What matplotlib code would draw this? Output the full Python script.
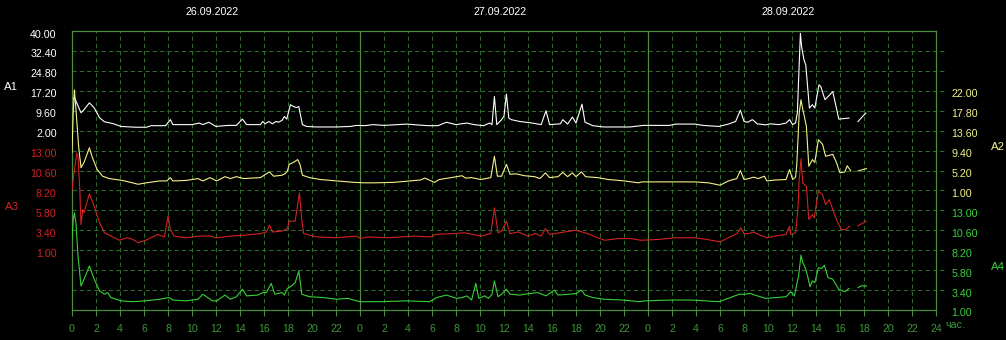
import numpy as np
import matplotlib
matplotlib.use('Agg')
import matplotlib.pyplot as plt
import matplotlib.transforms as mtransforms

# ---- data (hours from 26.09.2022 00:00) ----
dates = ['26.09.2022', '27.09.2022', '28.09.2022']

a1_hours = [0.0, 0.2, 0.35, 0.75, 1.0, 1.45, 1.85, 2.3, 2.7, 3.4, 4.1, 5.3, 6.2, 6.6, 7.8, 8.2, 8.4,
            10.0, 10.6, 10.9, 11.4, 12.0, 13.0, 13.7, 14.2, 14.55, 15.7, 15.9, 16.1, 16.4, 16.7, 17.0,
            17.2, 17.5, 17.7, 17.9, 18.2, 18.45, 18.7, 18.9, 19.2, 19.55, 20.4, 22.0, 23.2, 23.7, 24.4,
            25.1, 26.0, 27.9, 29.6, 30.5, 31.2, 32.0, 32.9, 33.5, 34.3, 34.8, 35.0, 35.2, 35.4, 35.8,
            36.0, 36.2, 36.4, 36.6, 37.3, 38.2, 39.1, 39.5, 39.8, 40.7, 40.9, 41.3, 41.7, 42.0, 42.5,
            42.75, 43.4, 44.3, 46.5, 47.6, 49.8, 50.3, 51.9, 52.6, 53.9, 54.7, 55.3, 55.7, 56.0, 56.3,
            56.7, 57.1, 57.8, 58.2, 58.9, 59.5, 59.8, 60.05, 60.3, 60.45, 60.55, 60.7, 60.8, 61.0,
            61.15, 61.3, 61.45, 61.7, 61.9, 62.25, 62.4, 62.75, 63.4, 63.9, 64.75, 65.1, 65.5, 66.15]
a1 = [13.8, 14.5, 13.1, 8.8, 10.0, 12.6, 10.7, 6.9, 5.4, 4.7, 3.6, 3.3, 3.3, 3.9, 3.9, 6.2, 4.3,
      4.3, 4.9, 4.3, 5.2, 3.6, 4.0, 4.0, 6.4, 4.3, 4.3, 5.5, 4.6, 5.5, 4.6, 5.5,
      5.2, 5.9, 7.4, 6.4, 11.9, 11.2, 10.8, 11.2, 4.3, 3.6, 3.4, 3.4, 3.6, 4.0, 3.9,
      4.3, 4.0, 4.5, 3.9, 3.9, 5.2, 4.3, 4.9, 4.3, 3.9, 4.9, 4.3, 15.0, 4.3, 6.2,
      7.5, 15.9, 6.8, 6.2, 5.5, 5.0, 4.3, 9.6, 4.3, 4.6, 6.2, 4.5, 7.2, 4.9, 12.1,
      5.2, 3.9, 3.4, 3.4, 4.0, 4.0, 4.5, 4.5, 4.0, 3.6, 4.5, 5.5, 9.8, 5.5, 5.2,
      6.2, 4.6, 4.2, 4.6, 4.3, 4.9, 6.2, 4.3, 5.0, 9.0, 21.4, 39.1, 34.0, 29.0,
      27.0, 18.8, 10.6, 11.9, 10.6, 19.5, 18.8, 13.8, 16.9, 6.4, 6.8, np.nan, 5.5, 8.7]

a2_hours = [0.0, 0.1, 0.2, 0.35, 0.55, 0.75, 1.0, 1.45, 1.7, 2.1, 2.55, 3.1, 4.2, 5.05, 5.5, 6.2, 7.3,
            7.9, 8.2, 8.4, 9.5, 10.5, 10.9, 11.5, 12.05, 12.75, 13.2, 13.7, 14.3, 15.7, 16.45, 16.8,
            17.5, 17.8, 17.95, 18.1, 18.45, 18.8, 19.0, 19.2, 19.8, 20.7, 22.05, 23.5, 24.4, 25.2,
            26.8, 29.05, 29.4, 30.2, 30.6, 31.6, 32.5, 32.8, 33.3, 34.05, 34.9, 35.2, 35.45, 35.8,
            36.2, 36.5, 37.0, 37.7, 38.55, 39.0, 39.45, 39.8, 40.5, 40.9, 41.3, 41.7, 42.0, 42.45,
            42.8, 43.8, 44.7, 46.05, 47.2, 47.5, 50.3, 51.9, 53.05, 54.0, 54.7, 55.4, 55.7, 56.0,
            56.4, 56.8, 57.2, 57.7, 57.9, 58.6, 59.5, 59.8, 60.05, 60.3, 60.4, 60.6, 60.75, 60.85,
            61.2, 61.4, 61.7, 61.9, 62.2, 62.55, 62.8, 63.4, 63.7, 64.0, 64.4, 64.6, 64.9, 65.2,
            65.5, 65.9, 66.2]
a2 = [9.0, 17.4, 22.2, 17.4, 10.3, 5.8, 6.9, 10.0, 7.9, 5.4, 4.0, 3.5, 3.1, 2.6, 2.3, 2.6, 3.0,
      3.0, 3.7, 3.0, 3.1, 3.5, 3.0, 3.7, 3.0, 3.9, 3.5, 3.9, 3.5, 3.7, 4.9, 4.0,
      4.2, 4.6, 5.1, 6.5, 6.9, 7.5, 6.5, 4.2, 3.7, 3.3, 3.0, 2.7, 2.6, 2.6,
      2.7, 3.2, 3.6, 2.7, 3.3, 3.7, 4.1, 3.6, 3.7, 3.3, 3.7, 8.2, 4.0, 4.0,
      6.5, 4.4, 4.5, 4.1, 3.9, 3.5, 4.7, 3.7, 3.9, 4.8, 3.9, 4.7, 3.9, 4.9,
      3.9, 3.7, 3.3, 3.0, 2.6, 2.8, 2.8, 2.8, 2.6, 2.1, 3.0, 3.5, 5.2, 3.3,
      3.5, 3.8, 3.5, 4.0, 3.0, 3.2, 3.3, 5.4, 3.3, 3.8, 6.5, 17.3, 20.1, 18.7,
      14.5, 6.1, 7.5, 6.9, 11.7, 10.7, 8.2, 8.6, 6.9, 4.7, 4.9, 6.2, 5.1, np.nan,
      5.1, 5.4, 5.6]

a3_hours = [0.0, 0.2, 0.4, 0.5, 0.65, 0.75, 0.9, 1.0, 1.45, 1.85, 2.3, 2.7, 3.25, 3.95, 4.6, 4.9,
            5.2, 5.5, 6.15, 7.15, 7.7, 8.0, 8.2, 8.5, 9.5, 10.6, 11.5, 12.05, 13.2, 14.3, 15.7, 16.2,
            16.45, 16.7, 17.5, 17.95, 18.1, 18.6, 18.95, 19.15, 19.3, 20.4, 22.05, 23.7, 24.05, 24.6,
            26.3, 28.5, 29.9, 30.3, 31.8, 32.7, 34.05, 34.9, 35.2, 35.5, 35.8, 36.2, 36.5, 37.2,
            38.0, 38.6, 39.1, 39.45, 39.8, 41.05, 42.0, 42.5, 43.0, 43.8, 44.4, 45.5, 46.6, 47.4,
            48.9, 50.3, 51.9, 52.9, 54.0, 54.7, 55.4, 55.75, 56.0, 56.4, 56.8, 57.2, 57.9, 58.6,
            59.5, 59.8, 59.9, 60.3, 60.5, 60.6, 60.75, 60.9, 61.2, 61.4, 61.7, 61.85, 62.2, 62.55,
            62.8, 63.1, 63.4, 63.7, 64.1, 64.5, 64.8, 65.2, 65.5, 65.8, 66.2]
a3 = [8.3, 10.7, 12.7, 12.3, 8.3, 4.1, 5.9, 5.5, 7.8, 6.3, 4.3, 3.1, 2.7, 2.2, 2.5, 2.4,
      2.2, 1.9, 2.2, 2.9, 2.6, 5.1, 3.5, 2.7, 2.5, 2.7, 2.7, 2.5, 2.7, 2.8, 3.0, 3.2,
      4.0, 3.2, 3.3, 3.6, 4.5, 4.5, 7.9, 4.7, 3.0, 2.6, 2.5, 2.7, 2.4, 2.6,
      2.5, 2.7, 2.6, 2.9, 3.0, 3.1, 2.7, 3.0, 6.1, 3.1, 3.3, 4.5, 3.0, 3.2,
      2.7, 3.0, 2.7, 3.6, 2.9, 3.2, 3.4, 3.2, 3.0, 2.5, 2.2, 2.4, 2.4, 2.2,
      2.3, 2.5, 2.5, 2.3, 2.0, 2.5, 3.0, 3.7, 3.0, 3.0, 3.2, 2.9, 2.5, 2.7,
      2.9, 3.9, 2.9, 3.1, 6.1, 9.5, 12.0, 9.1, 8.7, 4.7, 5.3, 4.9, 8.1, 7.7,
      6.5, 7.1, 5.9, 4.7, 3.5, 3.5, 3.9, np.nan, 3.9, 4.2, 4.5]

a4_hours = [0.0, 0.1, 0.2, 0.33, 0.5, 0.75, 1.0, 1.45, 1.85, 2.3, 2.7, 2.97, 3.25, 4.1, 5.05, 6.15,
            7.3, 8.1, 8.4, 9.5, 10.5, 10.9, 11.3, 11.7, 12.05, 12.75, 13.2, 13.7, 14.2, 14.55, 15.5,
            15.9, 16.2, 16.6, 16.9, 17.5, 17.7, 17.95, 18.3, 18.6, 18.9, 19.15, 19.8, 20.9, 22.05,
            23.0, 23.7, 24.0, 25.7, 27.9, 29.8, 30.4, 31.2, 32.05, 32.5, 32.9, 33.3, 33.65, 33.9,
            34.4, 34.7, 35.0, 35.2, 35.5, 35.8, 36.2, 36.5, 37.3, 38.2, 38.8, 39.5, 39.8, 40.2,
            40.5, 41.5, 42.05, 42.45, 42.75, 43.4, 44.3, 45.9, 47.3, 47.7, 49.8, 51.7, 52.8, 53.9,
            54.5, 55.6, 56.1, 56.5, 56.9, 57.8, 58.7, 59.5, 59.9, 60.2, 60.4, 60.55, 60.75, 60.9,
            61.1, 61.3, 61.5, 61.7, 61.9, 62.2, 62.45, 62.7, 63.0, 63.4, 63.9, 64.4, 64.75, 65.1,
            65.5, 65.75, 66.2]
a4 = [9.5, 11.9, 12.7, 11.5, 7.5, 3.9, 4.7, 6.3, 4.7, 3.3, 2.9, 3.1, 2.5, 2.1, 2.0, 2.1,
      2.3, 2.5, 2.2, 2.1, 2.3, 2.9, 2.5, 2.1, 2.1, 2.8, 2.3, 2.6, 3.5, 2.7, 2.8,
      3.1, 3.1, 4.2, 2.9, 3.1, 2.8, 3.6, 3.9, 4.3, 5.7, 2.9, 2.6, 2.5, 2.3,
      2.4, 2.1, 2.0, 2.0, 2.1, 2.0, 2.5, 2.8, 2.4, 2.5, 2.7, 2.2, 4.2, 2.4,
      2.7, 2.4, 2.9, 4.5, 2.6, 2.9, 3.5, 2.9, 2.8, 3.0, 3.1, 2.7, 3.0, 3.4,
      2.8, 2.9, 3.0, 3.4, 2.8, 2.5, 2.3, 2.2, 2.0, 2.1, 2.2, 2.2, 2.1, 2.0,
      2.3, 2.9, 2.9, 3.0, 2.8, 2.4, 2.5, 2.6, 3.2, 2.7, 4.1, 5.1, 7.6, 6.7,
      6.1, 5.1, 3.8, 4.5, 4.3, 6.1, 6.0, 6.4, 4.9, 4.7, 3.5, 3.2, 3.6, np.nan,
      3.7, 3.9, 3.9]

a1_ticks = [40.00, 32.40, 24.80, 17.20, 9.60, 2.00]
a2_ticks = [22.00, 17.80, 13.60, 9.40, 5.20, 1.00]
a3_ticks = [13.00, 10.60, 8.20, 5.80, 3.40, 1.00]
a4_ticks = [13.00, 10.60, 8.20, 5.80, 3.40, 1.00]

# ---- style ----
BG = 'black'
GRID = '#2f6e2f'
FRAME = '#4e8c3e'
XLAB = '#3d943d'
C1 = '#ffffff'
C2 = '#f2f28a'
C3 = '#d22222'
C4 = '#38d038'
FS = 7.7
LW = 0.8
plt.rcParams['font.family'] = ['Liberation Sans', 'DejaVu Sans']

N_ROWS = 14


def ylim_for(ticks, first_row):
    step = ticks[0] - ticks[1]
    top = ticks[0] + step * first_row
    return top - N_ROWS * step, top


fig = plt.figure(figsize=(10.06, 3.40), dpi=100, facecolor=BG)
ax1 = fig.add_axes([72 / 1006, 30 / 340, 864 / 1006, 279 / 340])
ax1.set_facecolor(BG)
ax2 = ax1.twinx()
ax3 = ax1.twinx()
ax4 = ax1.twinx()

# grid: horizontal rows (extend a bit to the right), vertical every 2 h
step1 = a1_ticks[0] - a1_ticks[1]
for k in range(1, N_ROWS):
    ax1.axhline(a1_ticks[0] - k * step1, xmin=0, xmax=1.009, color=GRID, lw=0.75,
                dashes=(4, 3), clip_on=False, zorder=0)
for h in range(2, 72, 2):
    if h % 24 == 0:
        ax1.axvline(h, color=FRAME, lw=0.9, zorder=0.5)
    else:
        ax1.axvline(h, color=GRID, lw=0.75, dashes=(4, 3), zorder=0)

ax1.set_xlim(0, 72)
ax1.set_xticks(range(0, 73, 2))
ax1.set_xticklabels([str(h % 24) if h < 72 else '24' for h in range(0, 73, 2)])
ax1.tick_params(axis='x', colors=FRAME, labelcolor=XLAB, labelsize=FS, length=4, width=0.8, pad=6)

series = [(ax1, a1_hours, a1, a1_ticks, 0, C1, 'left'),
          (ax2, a2_hours, a2, a2_ticks, 3, C2, 'right'),
          (ax3, a3_hours, a3, a3_ticks, 6, C3, 'left'),
          (ax4, a4_hours, a4, a4_ticks, 9, C4, 'right')]

# tick labels sit a little below their grid line in the original
shift = mtransforms.ScaledTranslation(0, -2.5 / 100, fig.dpi_scale_trans)

for ax, hrs, vals, ticks, row0, col, side in series:
    ax.plot(hrs, vals, color=col, lw=LW)
    ax.set_ylim(*ylim_for(ticks, row0))
    ax.set_yticks(ticks)
    ax.set_yticklabels(['{:.2f}'.format(t) for t in ticks])
    if side == 'left':
        ax.yaxis.tick_left()
    else:
        ax.yaxis.tick_right()
    ax.tick_params(axis='y', length=0, labelcolor=col, labelsize=FS, pad=11)
    for lab in ax.yaxis.get_majorticklabels():
        lab.set_transform(lab.get_transform() + shift)
    if ax is not ax1:
        ax.patch.set_visible(False)
        for s in ax.spines.values():
            s.set_visible(False)

for s in ax1.spines.values():
    s.set_color(FRAME)
    s.set_linewidth(0.9)

# date labels on top
top_trans = mtransforms.blended_transform_factory(ax1.transData, fig.transFigure)
for i, d in enumerate(dates):
    ax1.text(i * 24 + 11.7, 1 - 12 / 340, d, transform=top_trans,
             ha='center', va='center', color='white', fontsize=FS)

# series names and unit
fig.text(11 / 1006, 1 - 87 / 340, 'A1', color=C1, fontsize=FS + 0.5, ha='center', va='center')
fig.text(12 / 1006, 1 - 207 / 340, 'A3', color=C3, fontsize=FS + 0.5, ha='center', va='center')
fig.text(998 / 1006, 1 - 147 / 340, 'A2', color=C2, fontsize=FS + 0.5, ha='center', va='center')
fig.text(998 / 1006, 1 - 267 / 340, 'A4', color=C4, fontsize=FS + 0.5, ha='center', va='center')
fig.text(945 / 1006, 1 - 325 / 340, 'час.', color=XLAB, fontsize=FS, ha='left', va='center')

fig.savefig('out.png', dpi=100, facecolor=BG)
